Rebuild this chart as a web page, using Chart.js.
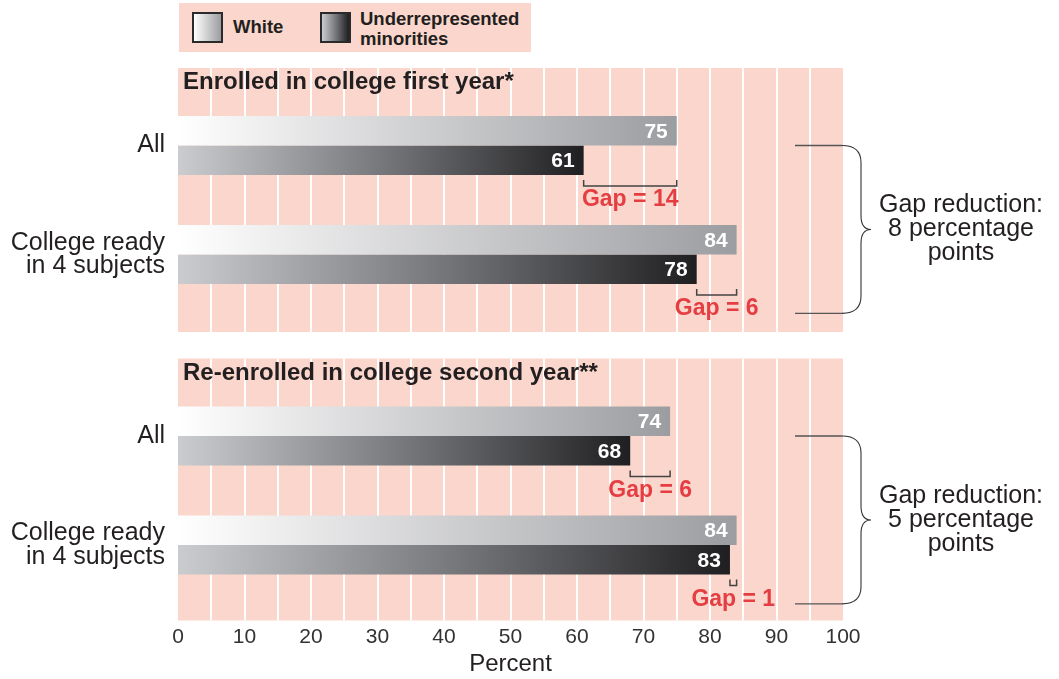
<!DOCTYPE html>
<html>
<head>
<meta charset="utf-8">
<script src="https://cdn.jsdelivr.net/npm/chart.js@4.4.1/dist/chart.umd.min.js"></script>
<style>
html,body{margin:0;padding:0;background:#fff;width:1059px;height:679px;overflow:hidden;font-family:"Liberation Sans",Arial,sans-serif;}
#c1{position:absolute;left:0;top:0;}
#c2{position:absolute;left:0;top:340px;}
#legend{position:absolute;left:179px;top:3px;width:352px;height:49px;background:#fad6cc;color:#231f20;font-weight:bold;font-size:18.5px;}
.sw{position:absolute;top:9px;width:27px;height:27px;border:2px solid #2a2a2a;}
#swW{left:13px;background:linear-gradient(to right,#ffffff,#9c9da1);}
#swM{left:141px;background:linear-gradient(to right,#cbcccf,#77787c 50%,#1f1f21);}
.lt{position:absolute;line-height:20px;}
#ltW{left:54px;top:14px;}
#ltM{left:181px;top:6px;}
</style>
</head>
<body>
<div id="legend">
  <div class="sw" id="swW"></div><div class="lt" id="ltW"></div>
  <div class="sw" id="swM"></div><div class="lt" id="ltM"></div>
</div>
<canvas id="c1" width="1059" height="340"></canvas>
<canvas id="c2" width="1059" height="339"></canvas>
<script>
// ---- data ----
const categories = ["All", ["College ready", "in 4 subjects"]];
const seriesNames = ["White", ["Underrepresented", "minorities"]];
const panelTitles = ["Enrolled in college first year*", "Re-enrolled in college second year**"];
const firstYearWhite = [75, 84];
const firstYearMinority = [61, 78];
const secondYearWhite = [74, 84];
const secondYearMinority = [68, 83];
const axisMin = 0, axisMax = 100, tickStep = 10, gridStep = 5;
const axisTitle = "Percent";

// ---- styles ----
const PINK = "#fad6cc";
const RED = "#e53e42";
const INK = "#231f20";
const whiteStops = ["#ffffff", "#9c9da1"];
const minorityStops = ["#cbcccf", "#77787c", "#1f1f21"];
const FONT = '"Liberation Sans", Arial, sans-serif';
Chart.defaults.font.family = FONT;

document.getElementById('ltW').textContent = seriesNames[0];
document.getElementById('ltM').innerHTML = seriesNames[1].join('<br>');

function barGradient(ctx, stops) {
  const chart = ctx.chart;
  if (!chart.chartArea || ctx.type !== 'data' || !chart.scales.x) return stops[stops.length - 1];
  const x = chart.scales.x;
  const x0 = x.getPixelForValue(axisMin), x1 = x.getPixelForValue(ctx.raw);
  const g = chart.ctx.createLinearGradient(x0, 0, x1, 0);
  stops.forEach((c, i) => g.addColorStop(i / (stops.length - 1), c));
  return g;
}

const panelPlugin = {
  id: 'panel',
  beforeDatasetsDraw(chart, args, opts) {
    const { ctx, chartArea: a, scales: { x } } = chart;
    const top = a.top - opts.padTop, bottom = a.bottom + opts.padBottom;
    ctx.save();
    ctx.fillStyle = PINK;
    ctx.fillRect(a.left, top, a.right - a.left, bottom - top);
    ctx.strokeStyle = '#ffffff';
    ctx.lineWidth = 2;
    for (let v = axisMin + gridStep; v < axisMax; v += gridStep) {
      const px = Math.round(x.getPixelForValue(v));
      ctx.beginPath(); ctx.moveTo(px, top); ctx.lineTo(px, bottom); ctx.stroke();
    }
    ctx.fillStyle = INK;
    ctx.font = 'bold 24px ' + FONT;
    ctx.textAlign = 'left';
    ctx.textBaseline = 'alphabetic';
    ctx.fillText(opts.title, a.left + 5, top + 21);
    ctx.restore();
  },
  afterDatasetsDraw(chart, args, opts) {
    const { ctx, chartArea: a, scales: { x, y } } = chart;
    const wMeta = chart.getDatasetMeta(0), mMeta = chart.getDatasetMeta(1);
    const wData = chart.data.datasets[0].data, mData = chart.data.datasets[1].data;
    ctx.save();
    // value labels
    ctx.fillStyle = '#ffffff';
    ctx.font = 'bold 21px ' + FONT;
    ctx.textAlign = 'right';
    ctx.textBaseline = 'middle';
    [wMeta, mMeta].forEach((meta, di) => {
      meta.data.forEach((el, i) => {
        ctx.fillText(String(chart.data.datasets[di].data[i]), el.x - 9, el.y + 1);
      });
    });
    // gap brackets
    const gaps = [];
    mMeta.data.forEach((el, i) => {
      const gap = wData[i] - mData[i];
      gaps.push(gap);
      const xm = x.getPixelForValue(mData[i]);
      const xw = x.getPixelForValue(wData[i]);
      const bottom = el.y + el.height / 2;
      const by = bottom + 11;
      ctx.strokeStyle = '#444';
      ctx.lineWidth = 1.5;
      ctx.beginPath();
      ctx.moveTo(xm, bottom + 5); ctx.lineTo(xm, by); ctx.lineTo(xw, by); ctx.lineTo(xw, bottom + 5);
      ctx.stroke();
      ctx.fillStyle = RED;
      ctx.font = 'bold 23px ' + FONT;
      ctx.textAlign = 'center';
      ctx.textBaseline = 'middle';
      ctx.fillText('Gap = ' + gap, (xm + xw) / 2, by + 14);
    });
    // brace
    const barH = wMeta.data[0].height;
    const yt = y.getPixelForValue(0);
    const yb = y.getPixelForValue(categories.length - 1) + 2 * barH;
    const mid = (yt + yb) / 2;
    const xl = a.right - 48, xr = a.right - 1, xs = a.right + 18, xt = a.right + 28;
    ctx.strokeStyle = '#555';
    ctx.lineWidth = 1.3;
    ctx.beginPath();
    ctx.moveTo(xl, yt); ctx.lineTo(xr, yt);
    ctx.moveTo(xl, yb); ctx.lineTo(xr, yb);
    ctx.stroke();
    ctx.strokeStyle = '#333';
    ctx.lineWidth = 1.1;
    ctx.beginPath();
    ctx.moveTo(xr, yt);
    ctx.quadraticCurveTo(xs, yt, xs, yt + 17);
    ctx.lineTo(xs, mid - 14);
    ctx.quadraticCurveTo(xs, mid, xt, mid);
    ctx.quadraticCurveTo(xs, mid, xs, mid + 14);
    ctx.lineTo(xs, yb - 17);
    ctx.quadraticCurveTo(xs, yb, xr, yb);
    ctx.stroke();
    const reduction = gaps[0] - gaps[gaps.length - 1];
    const lines = ['Gap reduction:', reduction + ' percentage', 'points'];
    ctx.fillStyle = INK;
    ctx.font = '25px ' + FONT;
    ctx.textAlign = 'center';
    ctx.textBaseline = 'middle';
    lines.forEach((t, i) => ctx.fillText(t, a.right + 118, mid + (i - 1) * 24));
    ctx.restore();
  }
};

function makeChart(id, title, white, minority, showAxis, padTop, padBottom, panelBottom) {
  return new Chart(document.getElementById(id), {
    type: 'bar',
    data: {
      labels: categories,
      datasets: [
        { label: seriesNames[0], data: white, backgroundColor: c => barGradient(c, whiteStops) },
        { label: seriesNames[1].join(' '), data: minority, backgroundColor: c => barGradient(c, minorityStops) }
      ]
    },
    options: {
      indexAxis: 'y',
      responsive: false,
      animation: false,
      layout: { padding: { left: 0, right: 216, top: padTop, bottom: padBottom } },
      datasets: { bar: { categoryPercentage: 0.54, barPercentage: 1.0, borderWidth: 0 } },
      plugins: {
        legend: { display: false },
        tooltip: { enabled: false },
        panel: { title: title, padTop: 23, padBottom: panelBottom }
      },
      scales: {
        x: {
          min: axisMin, max: axisMax,
          display: showAxis,
          grid: { display: false, drawTicks: false },
          border: { display: false },
          ticks: { stepSize: tickStep, padding: 25, color: '#333', font: { size: 21 } },
          title: { display: true, text: axisTitle, color: INK, font: { size: 24 }, padding: { top: 0, bottom: 0 } },
          afterFit: s => { if (showAxis) s.height = 79.5; }
        },
        y: {
          grid: { display: false, drawTicks: false },
          border: { display: false },
          ticks: { padding: 13, color: INK, font: { size: 25, lineHeight: 0.93 } },
          afterFit: s => { s.width = 178; }
        }
      }
    },
    plugins: [panelPlugin]
  });
}

makeChart('c1', panelTitles[0], firstYearWhite, firstYearMinority, false, 91, 31, 23);
makeChart('c2', panelTitles[1], secondYearWhite, secondYearMinority, true, 41.5, 0, 21);
</script>
</body>
</html>
